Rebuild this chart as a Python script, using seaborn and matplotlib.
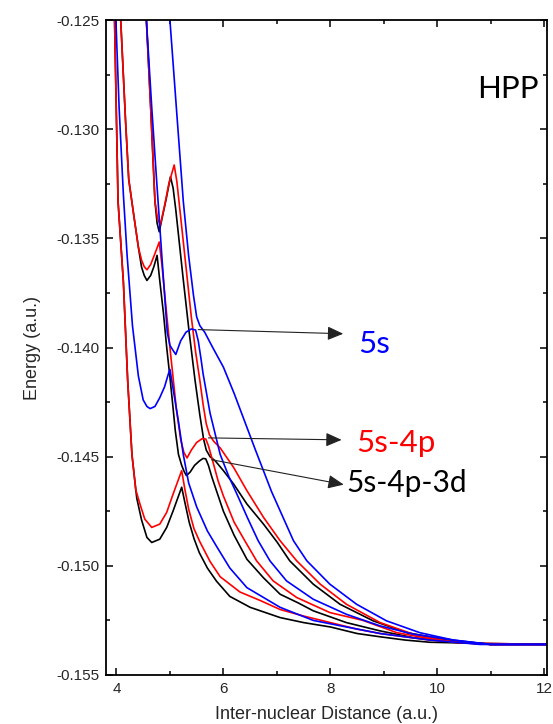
import matplotlib
matplotlib.use("Agg")
import matplotlib.pyplot as plt
import seaborn as sns
import pandas as pd
from matplotlib.ticker import MultipleLocator, FormatStrFormatter

# ---------------- data ----------------
# black: 5s-4p-3d
k1_x = [3.95, 3.965, 4.03, 4.13, 4.21, 4.29, 4.38, 4.47, 4.57, 4.66, 4.81, 4.94, 5.06, 5.22,
        5.28, 5.36, 5.45, 5.55, 5.7, 5.87, 6.12, 6.5, 7.06, 7.5, 8.0, 8.5, 8.93, 9.4, 9.86, 10.8, 12.05]
k1_y = [-0.1235, -0.125, -0.1333, -0.1370, -0.1415, -0.1449, -0.1469, -0.1479, -0.1487, -0.14893, -0.14878,
        -0.14824, -0.14748, -0.1464, -0.1471, -0.1480, -0.14875, -0.1494, -0.1501, -0.1507, -0.1514, -0.1519,
        -0.15237, -0.1526, -0.1528, -0.1531, -0.15325, -0.1534, -0.1535, -0.15355, -0.1536]
k2_x = [4.06, 4.08, 4.17, 4.23, 4.32, 4.41, 4.47, 4.52, 4.57, 4.64, 4.70, 4.76, 4.81, 4.88, 4.94, 5.0,
        5.06, 5.1, 5.16, 5.22, 5.27, 5.31, 5.38, 5.46, 5.55, 5.62, 5.67, 5.72, 5.78, 5.87, 6.0, 6.2, 6.44,
        6.75, 7.06, 7.4, 7.68, 8.3, 8.93, 9.55, 10.3, 11.0, 12.05]
k2_y = [-0.1240, -0.125, -0.1296, -0.1323, -0.13387, -0.1354, -0.13632, -0.1367, -0.13693, -0.1367, -0.1363,
        -0.13578, -0.13693, -0.13845, -0.1400, -0.14135, -0.1428, -0.1438, -0.1449, -0.1454, -0.1457, -0.14587,
        -0.1457, -0.1454, -0.1452, -0.14508, -0.1451, -0.1454, -0.1459, -0.14656, -0.1475, -0.1486, -0.1497,
        -0.15055, -0.1513, -0.1517, -0.15206, -0.1526, -0.15298, -0.15329, -0.1535, -0.1536, -0.1536]
k3_x = [4.54, 4.56, 4.64, 4.72, 4.76, 4.80, 4.86, 4.93, 5.01, 5.06, 5.11, 5.18, 5.25, 5.36, 5.47, 5.56,
        5.63, 5.68, 5.75, 5.85, 6.0, 6.19, 6.44, 6.75, 7.0, 7.24, 7.68, 8.18, 8.8, 9.43, 10.2, 11.0, 12.05]
k3_y = [-0.1240, -0.125, -0.1290, -0.1333, -0.1343, -0.1347, -0.1340, -0.1332, -0.13218, -0.1327, -0.1337,
        -0.1353, -0.1369, -0.1393, -0.14151, -0.1431, -0.1442, -0.1447, -0.1450, -0.1452, -0.14564, -0.14625,
        -0.14717, -0.14809, -0.1489, -0.14977, -0.15084, -0.15176, -0.15252, -0.15306, -0.1534, -0.1536, -0.1536]

# red: 5s-4p
r1_x = [3.95, 3.965, 4.03, 4.13, 4.21, 4.29, 4.36, 4.44, 4.53, 4.66, 4.81, 4.94, 5.06, 5.22, 5.28, 5.35,
        5.45, 5.56, 5.75, 5.94, 6.31, 6.7, 7.06, 7.5, 8.0, 8.5, 8.93, 9.4, 9.86, 10.8, 12.05]
r1_y = [-0.1235, -0.125, -0.1333, -0.1370, -0.1415, -0.1449, -0.1465, -0.14717, -0.14786, -0.14824, -0.14809,
        -0.14755, -0.14671, -0.14564, -0.1465, -0.1474, -0.1483, -0.1489, -0.1498, -0.1505, -0.1512, -0.1516,
        -0.1520, -0.1523, -0.1526, -0.1529, -0.1531, -0.15325, -0.1534, -0.15355, -0.1536]
r2_x = [4.06, 4.08, 4.17, 4.23, 4.32, 4.41, 4.47, 4.52, 4.57, 4.64, 4.72, 4.80, 4.85, 4.92, 5.0, 5.06,
        5.12, 5.2, 5.26, 5.32, 5.4, 5.5, 5.6, 5.67, 5.72, 5.8, 5.9, 6.0, 6.2, 6.4, 6.62, 6.93, 7.37, 7.99,
        8.61, 9.24, 10.0, 11.0, 12.05]
r2_y = [-0.1240, -0.125, -0.1296, -0.1323, -0.13387, -0.1354, -0.1360, -0.1363, -0.13644, -0.1362, -0.1357,
        -0.13517, -0.1362, -0.1380, -0.1400, -0.1414, -0.1428, -0.1442, -0.1448, -0.14506, -0.1447, -0.14435,
        -0.14418, -0.14419, -0.1445, -0.1452, -0.1461, -0.1468, -0.1480, -0.14885, -0.14977, -0.15069,
        -0.15145, -0.15214, -0.1525, -0.15306, -0.1534, -0.1536, -0.1536]
r3_x = [4.54, 4.56, 4.64, 4.72, 4.77, 4.82, 4.9, 4.98, 5.08, 5.13, 5.2, 5.3, 5.4, 5.48, 5.56, 5.62, 5.68,
        5.74, 5.82, 5.94, 6.19, 6.44, 6.75, 7.06, 7.37, 7.81, 8.3, 8.93, 9.55, 10.3, 11.0, 12.05]
r3_y = [-0.1240, -0.125, -0.1290, -0.1333, -0.1341, -0.1344, -0.1335, -0.1325, -0.13164, -0.1324, -0.1340,
        -0.1363, -0.1386, -0.1402, -0.14151, -0.1426, -0.1435, -0.1440, -0.1443, -0.1446, -0.14549, -0.14656,
        -0.14778, -0.14885, -0.14977, -0.15084, -0.15176, -0.1526, -0.15313, -0.1535, -0.1536, -0.1536]

# blue: 5s
b1_x = [3.98, 3.99, 4.05, 4.13, 4.2, 4.3, 4.41, 4.5, 4.57, 4.63, 4.72, 4.81, 4.9, 4.96, 5.0, 5.08, 5.16,
        5.25, 5.35, 5.5, 5.7, 5.87, 6.12, 6.44, 7.06, 7.68, 8.3, 8.93, 9.86, 10.8, 12.05]
b1_y = [-0.1245, -0.125, -0.1290, -0.1330, -0.1358, -0.1390, -0.1413, -0.1424, -0.1427, -0.1428, -0.1427,
        -0.1423, -0.1418, -0.1413, -0.1410, -0.1422, -0.1434, -0.1449, -0.1462, -0.1473, -0.1484, -0.1491,
        -0.1501, -0.1510, -0.1519, -0.1525, -0.1528, -0.1531, -0.1534, -0.1536, -0.1536]
b2_x = [4.54, 4.56, 4.66, 4.75, 4.86, 4.95, 5.0, 5.05, 5.11, 5.2, 5.3, 5.4, 5.48, 5.53, 5.58, 5.62, 5.75,
        5.94, 6.1, 6.25, 6.45, 6.65, 6.87, 7.18, 7.68, 8.3, 8.93, 9.55, 10.3, 11.0, 12.05]
b2_y = [-0.1240, -0.125, -0.1290, -0.1323, -0.1362, -0.1393, -0.1399, -0.1401, -0.14032, -0.1397, -0.1393,
        -0.13915, -0.1392, -0.1397, -0.1405, -0.1412, -0.1430, -0.1449, -0.1459, -0.1467, -0.1478, -0.14885,
        -0.14977, -0.15069, -0.15153, -0.15222, -0.15275, -0.15313, -0.1534, -0.1536, -0.1536]
b3_x = [4.98, 5.0, 5.12, 5.25, 5.35, 5.44, 5.5, 5.56, 5.65, 5.8, 6.0, 6.2, 6.4, 6.6, 6.9, 7.31, 7.56,
        7.99, 8.49, 9.05, 9.67, 10.3, 11.0, 12.05]
b3_y = [-0.1243, -0.125, -0.1290, -0.1333, -0.1358, -0.1376, -0.1386, -0.1390, -0.1393, -0.1400, -0.1409,
        -0.1421, -0.1434, -0.1447, -0.1466, -0.14885, -0.14977, -0.15084, -0.15176, -0.15252, -0.15306,
        -0.1534, -0.1536, -0.1536]

x_ticks = [4, 6, 8, 10, 12]
y_ticks = [-0.155, -0.150, -0.145, -0.140, -0.135, -0.130, -0.125]
x_label = "Inter-nuclear Distance (a.u.)"
y_label = "Energy (a.u.)"
panel_label = "HPP"
series_labels = ["5s", "5s-4p", "5s-4p-3d"]
series_colors = ["#0000ff", "#ff0000", "#000000"]
# arrow start points on curves, arrow tips, text anchors (data coords)
arrow_from = [(5.53, -0.13918), (5.72, -0.14414), (5.78, -0.14514)]
arrow_to = [(8.24, -0.13937), (8.21, -0.14423), (8.25, -0.14628)]
text_at = [(8.52, -0.14027), (8.48, -0.14477), (8.30, -0.14661)]

# ---------------- figure ----------------
sns.set_style("ticks")
plt.rcParams["font.family"] = ["Liberation Sans", "DejaVu Sans"]

W, H = 553, 724
fig = plt.figure(figsize=(W / 100, H / 100), dpi=100)
ax = fig.add_axes([106 / W, 1 - 675 / H, (547 - 106) / W, (675 - 20) / H])

curves = [
    (k1_x, k1_y, "#000000"), (k2_x, k2_y, "#000000"), (k3_x, k3_y, "#000000"),
    (r1_x, r1_y, "#ff0000"), (r2_x, r2_y, "#ff0000"), (r3_x, r3_y, "#ff0000"),
    (b1_x, b1_y, "#0000ff"), (b2_x, b2_y, "#0000ff"), (b3_x, b3_y, "#0000ff"),
]
for cx, cy, col in curves:
    df = pd.DataFrame({"x": cx, "y": cy})
    sns.lineplot(data=df, x="x", y="y", ax=ax, color=col, lw=1.2,
                 sort=False, estimator=None, legend=False,
                 solid_joinstyle="round", solid_capstyle="round")

ax.set_xlim(3.805, 12.05)
ax.set_ylim(-0.155, -0.125)
ax.set_xticks(x_ticks)
ax.set_yticks(y_ticks)
ax.xaxis.set_minor_locator(MultipleLocator(1))
ax.yaxis.set_minor_locator(MultipleLocator(0.0025))
ax.yaxis.set_major_formatter(FormatStrFormatter("%.3f"))
ax.tick_params(which="both", direction="in", top=True, right=True, width=1.1, color="black")
ax.tick_params(which="major", length=5, labelsize=11, pad=5)
ax.tick_params(which="minor", length=3)
for s in ax.spines.values():
    s.set_linewidth(1.3)
    s.set_color("black")

ax.set_xlabel(x_label, fontsize=13, labelpad=7)
ax.set_ylabel(y_label, fontsize=13, labelpad=11)

for (fx, fy), (tx, ty), (lx, ly), lab, col in zip(arrow_from, arrow_to, text_at, series_labels, series_colors):
    ax.annotate("", xy=(tx, ty), xytext=(fx, fy),
                arrowprops=dict(arrowstyle="-|>,head_length=0.8,head_width=0.35",
                                mutation_scale=12, color="#222222", lw=0.8,
                                shrinkA=0, shrinkB=0))
    fs = 21.5 if lab == "5s-4p-3d" else 22.5
    ax.text(lx, ly, lab, color=col, fontsize=fs, va="baseline", ha="left",
            family=["Lato", "DejaVu Sans"])

ax.text(10.74, -0.12855, panel_label, color="black", fontsize=22.5, va="baseline", ha="left",
        family=["Lato", "DejaVu Sans"])

fig.savefig("out.png", dpi=100)
